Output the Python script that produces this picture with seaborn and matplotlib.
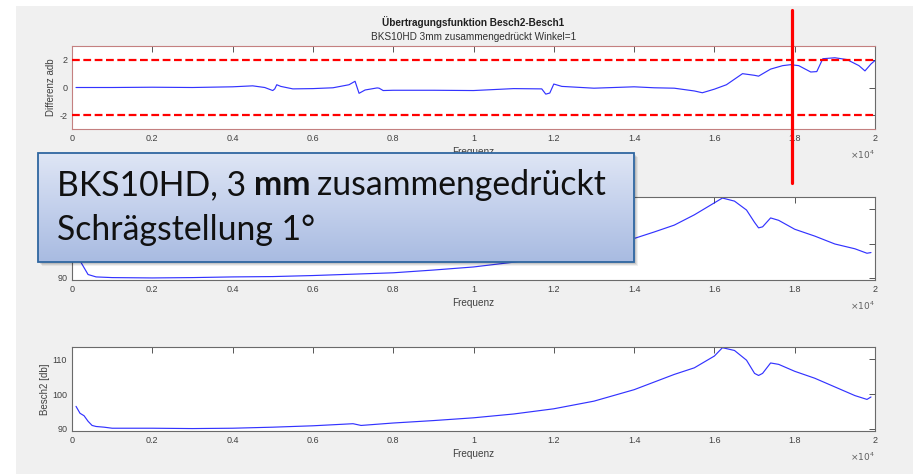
import matplotlib
matplotlib.use("Agg")
import numpy as np
import matplotlib.pyplot as plt
import seaborn as sns
from matplotlib.colors import LinearSegmentedColormap
from matplotlib.patches import Rectangle
from matplotlib.lines import Line2D
from matplotlib.ticker import FuncFormatter
from matplotlib.transforms import blended_transform_factory

# --- Differenz Besch2 - Besch1 [dB] over frequency [Hz]
freq_diff = [100, 1000, 2000, 3000, 4000, 4500, 4800, 5000, 5050, 5100, 5200, 5500,
             6000, 6500, 6900, 7050, 7150, 7300, 7600, 7650, 7750, 8000, 9000, 10000,
             11000, 11700, 11800, 11900, 12000, 12200, 13000, 14000, 14500, 15000,
             15500, 15700, 16000, 16300, 16500, 16700, 17000, 17100, 17400, 17700,
             17900, 18100, 18400, 18550, 18700, 19000, 19300, 19600, 19750, 19900, 20000]
diff_db = [0.0, 0.0, 0.02, 0.0, 0.05, 0.12, 0.0, -0.22, -0.1, 0.2, 0.08, -0.1,
           -0.08, -0.02, 0.2, 0.45, -0.42, -0.18, -0.03, -0.05, -0.22, -0.2, -0.2, -0.22,
           -0.08, -0.1, -0.48, -0.4, 0.25, 0.08, -0.05, 0.05, -0.02, -0.05,
           -0.25, -0.38, -0.12, 0.2, 0.6, 1.0, 0.88, 0.82, 1.33, 1.58,
           1.65, 1.58, 1.12, 1.15, 2.08, 2.15, 2.02, 1.58, 1.2, 1.7, 1.95]

# --- Pegel Besch1 [dB]
freq_b1 = [100, 200, 300, 400, 600, 1000, 2000, 3000, 4000, 5000, 6000, 7000, 8000,
           9000, 10000, 11000, 12000, 13000, 14000, 14500, 15000, 15500, 16000, 16200,
           16500, 16800, 17000, 17100, 17200, 17400, 17600, 18000, 18500, 19000, 19500,
           19800, 19900]
besch1_db = [97.5, 95.0, 93.0, 91.0, 90.3, 90.1, 90.0, 90.1, 90.3, 90.4, 90.7, 91.1, 91.5,
             92.3, 93.2, 94.6, 96.3, 98.5, 101.5, 103.4, 105.4, 108.4, 111.9, 113.3,
             112.4, 109.8, 106.2, 104.6, 104.9, 107.5, 106.8, 104.2, 102.2, 99.9, 98.5,
             97.2, 97.4]

# --- Pegel Besch2 [dB]
freq_b2 = [100, 200, 300, 400, 500, 600, 800, 1000, 1500, 2000, 3000, 4000, 5000, 6000,
           7000, 7200, 8000, 9000, 10000, 11000, 12000, 13000, 14000, 14500, 15000, 15500,
           16000, 16200, 16500, 16800, 17000, 17100, 17200, 17400, 17600, 18000, 18500,
           19000, 19500, 19800, 19900]
besch2_db = [96.5, 94.5, 93.8, 92.2, 91.0, 90.7, 90.5, 90.2, 90.2, 90.2, 90.1, 90.2, 90.5,
             90.9, 91.5, 91.0, 91.7, 92.4, 93.2, 94.3, 95.8, 98.0, 101.3, 103.5, 105.7,
             107.6, 111.0, 113.4, 112.6, 109.8, 106.0, 105.4, 106.0, 109.0, 108.6, 106.6,
             104.6, 102.1, 99.6, 98.5, 99.2]

tolerance_db = [2, -2]
marker_freq = 17930
x_ticks = [0, 2000, 4000, 6000, 8000, 10000, 12000, 14000, 16000, 18000, 20000]
diff_ticks = [-2, 0, 2]
level_ticks = [90, 100, 110]

title = "Übertragungsfunktion Besch2-Besch1"
subtitle = "BKS10HD 3mm zusammengedrückt Winkel=1"
callout_parts = [("BKS10HD, 3", "normal"), ("mm", "bold"), ("zusammengedrückt", "normal")]
callout_line2 = "Schrägstellung 1°"

sns.set_style("white")
plt.rcParams["font.family"] = ["Liberation Sans", "DejaVu Sans"]
plt.rcParams["axes.unicode_minus"] = False

W, H = 913, 474
fig = plt.figure(figsize=(W / 100, H / 100), dpi=100)
fig.patch.set_facecolor("white")
fig.add_artist(Rectangle((16 / W, 0), 1, 1 - 6 / H, transform=fig.transFigure,
                         facecolor="#f0f0f0", edgecolor="none", zorder=-5))


def px_axes(left, top, right, bottom):
    return fig.add_axes([left / W, 1 - bottom / H, (right - left) / W, (bottom - top) / H])


ax1 = px_axes(72, 46, 875, 129)
ax2 = px_axes(72, 197, 875, 280)
ax3 = px_axes(72, 347, 875, 431)

txt_col = "#404040"
line_kw = dict(color="#0000ff", lw=0.85, alpha=0.8, estimator=None, sort=False)
sns.lineplot(x=freq_diff, y=diff_db, ax=ax1, **line_kw)
for lvl in tolerance_db:
    ax1.axhline(lvl, color="#ff0000", lw=1.6, ls=(0, (3.5, 1.6)), zorder=3)
sns.lineplot(x=freq_b1, y=besch1_db, ax=ax2, **line_kw)
sns.lineplot(x=freq_b2, y=besch2_db, ax=ax3, **line_kw)

ax1.set_ylim(-3, 3)
ax1.set_yticks(diff_ticks)
ax1.set_ylabel("Differenz adb", fontsize=7, color=txt_col, labelpad=2)
ax3.set_ylabel("Besch2 [db]", fontsize=7, color=txt_col, labelpad=1.5)
ax2.set_ylabel("")
for ax in (ax2, ax3):
    ax.set_ylim(89.4, 113.6)
    ax.set_yticks(level_ticks)
# only the lowest level label of the middle panel stays clear of the callout
ax2.set_yticklabels([str(level_ticks[0]), "", ""])

for ax in (ax1, ax2, ax3):
    ax.set_facecolor("white")
    ax.set_xlim(0, 20000)
    ax.set_xticks(x_ticks)
    ax.xaxis.set_major_formatter(FuncFormatter(lambda v, p: f"{v / 1e4:g}"))
    ax.tick_params(direction="in", length=4.5, width=0.7, top=True, right=True,
                   labelsize=6.5, color="#555555", labelcolor=txt_col, pad=3.5)
    ax.set_xlabel("Frequenz", fontsize=7.2, color=txt_col, labelpad=3)
    for sp in ax.spines.values():
        sp.set_color("#6a6a6a")
        sp.set_linewidth(0.8)
    ax.annotate(r"$\times10^4$", xy=(1, 0), xycoords="axes fraction",
                xytext=(0, -18.5), textcoords="offset points", ha="right", va="center",
                fontsize=6.5, color="#606060")

for side in ("top", "bottom", "left"):
    ax1.spines[side].set_color("#c48080")

cx = (72 + 875) / 2 / W
fig.text(cx, 1 - 22 / H, title, ha="center", va="center", fontsize=7.2,
         fontweight="bold", color="#202020")
fig.text(cx, 1 - 37 / H, subtitle, ha="center", va="center", fontsize=7.2,
         color="#303030")

# vertical red marker across the top panel
vtrans = blended_transform_factory(ax1.transData, fig.transFigure)
fig.add_artist(Line2D([marker_freq, marker_freq], [1 - 10 / H, 1 - 183 / H],
                      transform=vtrans, color="#ff0000", lw=2.3, zorder=20))

# callout box with shadow and vertical gradient
bl, bt, br, bb = 38, 153, 634, 262
for k, a in zip((4, 3, 2), (0.06, 0.08, 0.10)):
    fig.add_artist(Rectangle(((bl + k) / W, 1 - (bb + k) / H), (br - bl) / W,
                             (bb - bt) / H, transform=fig.transFigure,
                             facecolor="black", alpha=a, edgecolor="none", zorder=8))
bax = px_axes(bl, bt, br, bb)
bax.set_zorder(10)
grad = LinearSegmentedColormap.from_list("callout", ["#a8bbe1", "#c3d0ec", "#dfe6f5"])
bax.imshow(np.linspace(0, 1, 256).reshape(-1, 1)[::-1], aspect="auto", cmap=grad,
           extent=[0, 1, 0, 1])
bax.set_axis_off()
bax.add_patch(Rectangle((0, 0), 1, 1, transform=bax.transAxes, fill=False,
                        edgecolor="#2f66a0", lw=1.3, clip_on=False))

renderer = fig.canvas.get_renderer()
fs = 24.3
space = fs * 0.22 / 72 * 100
x = 57
for s, w in callout_parts:
    t = fig.text(x / W, 1 - 195 / H, s, fontsize=fs, fontweight=w, family="Lato",
                 va="baseline", ha="left", color="#111111", zorder=12)
    ext = t.get_window_extent(renderer)
    x = ext.x1 + space
fig.text(57 / W, 1 - 240 / H, callout_line2, fontsize=fs, family="Lato",
         va="baseline", ha="left", color="#111111", zorder=12)

fig.savefig("out.png", dpi=100)
